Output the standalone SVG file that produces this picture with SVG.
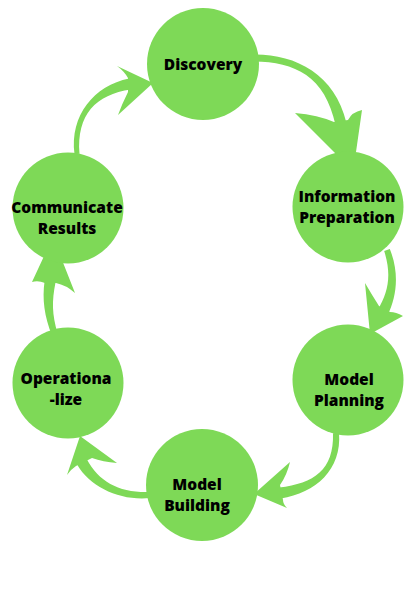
<svg xmlns="http://www.w3.org/2000/svg" width="420" height="594" viewBox="0 0 420 594">
<style>
.node circle{fill:#7ED957}
.node text{font-family:"Open Sans","Liberation Sans",sans-serif;font-weight:800;font-size:15.5px;fill:#000;text-anchor:middle}
.shaft,.head{fill:#7ED957}
</style>
<rect width="420" height="594" fill="#fff"/>
<g id="connectors">
<path class="shaft" d="M79.5,153.8 C76.5,114.6 95.8,94.4 130.9,89.4 L129.1,78.6 C94.2,85.6 69.5,115.4 74.5,154.3 Z"/>
<path class="head" d="M153,83 L117,66 Q124,71 128,78 L128,92 Q122,104 118,115 Z"/>
<path class="shaft" d="M254,61.5 C295,62 325.1,76.1 335.6,125.2 L346.4,122.8 C334.9,73.9 295,54 254,54.5 Z"/>
<path class="head" d="M344,162 L295,113 Q318,115 334,122 L348,120 Q352,112 362,110 L356,152 Z"/>
<path class="shaft" d="M384.2,251 C392.2,276.4 387.6,292.7 378.1,309.4 L387.9,314.6 C396.4,297.3 399.8,273.6 389.8,249 Z"/>
<path class="head" d="M370,334 L365,283 Q372,295 379,306 L390,312 Q396,312 403,316 Z"/>
<path class="shaft" d="M333,433.2 C334,470.2 314.3,483 279.2,487.6 L280.8,498.4 C315.7,493 342,469.8 339,432.8 Z"/>
<path class="head" d="M254,494 L290,462 Q287,475 280,485 L283,500 Q283,504 287,508 Z"/>
<path class="shaft" d="M149.8,492 C119.7,493 99.4,482.5 86.8,459.3 L77.2,464.7 C90.6,487.5 120.3,501 150.2,498 Z"/>
<path class="head" d="M80,436 L67,475 Q70,470 76,466 L92,458 Q103,462 117,463 Z"/>
<path class="shaft" d="M57.8,334 C51.8,313.7 51.9,300.8 55.4,282.9 L44.6,281.1 C42.1,299.2 44.2,316.3 52.2,336 Z"/>
<path class="head" d="M45,254 L32,282 Q38,280 45,283 L56,283 Q66,285 75,293 L62,260 Z"/>
</g>
<g id="discovery" class="node"><circle cx="203" cy="64" r="56"/><text x="203" y="70">Discovery</text></g>
<g id="information-preparation" class="node"><circle cx="348" cy="207" r="55.5"/><text x="347" y="202">Information</text><text x="347" y="223">Preparation</text></g>
<g id="model-planning" class="node"><circle cx="348" cy="380" r="55.5"/><text x="349" y="385">Model</text><text x="349" y="406">Planning</text></g>
<g id="model-building" class="node"><circle cx="202" cy="485" r="56"/><text x="197" y="490">Model</text><text x="197" y="511">Building</text></g>
<g id="operationalize" class="node"><circle cx="68" cy="383" r="55.5"/><text x="66" y="384">Operationa</text><text x="66" y="405">-lize</text></g>
<g id="communicate-results" class="node"><circle cx="68" cy="208" r="55.5"/><text x="67" y="213">Communicate</text><text x="67" y="234">Results</text></g>
</svg>
